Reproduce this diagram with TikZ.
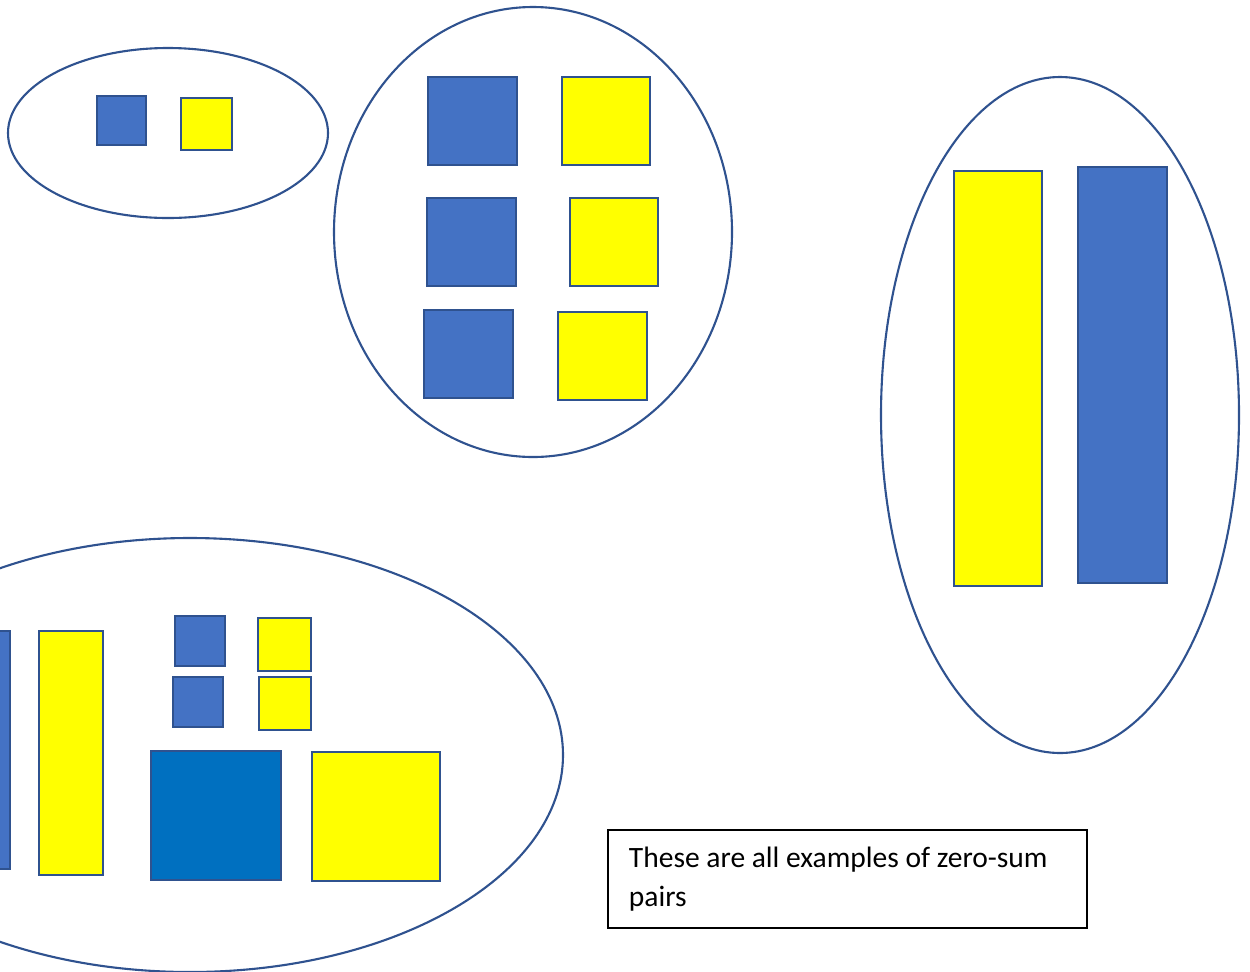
\documentclass[tikz,border=0pt]{standalone}
\usepackage{fontspec}
\setmainfont{Carlito}
\definecolor{tileblue}{HTML}{4472C4}
\definecolor{deepblue}{HTML}{0070C0}
\definecolor{rim}{HTML}{2F528F}
\definecolor{tileyellow}{HTML}{FFFF00}
\tikzset{
  ring/.style     ={draw=rim, line width=1.2pt},
  tile/.style     ={draw=rim, line width=1.2pt},
  plustile/.style ={tile, fill=tileyellow},
  minustile/.style={tile, fill=tileblue},
  bigminus/.style ={tile, fill=deepblue},
  note/.style     ={draw=black, line width=1.1pt, anchor=north west, align=flush left,
                    minimum width=9.58cm, minimum height=1.96cm, text width=8.74cm,
                    inner xsep=0.42cm, font=\fontsize{16.8}{22}\selectfont}
}
\begin{document}
\begin{tikzpicture}[x=0.02cm, y=-0.02cm]
  \useasboundingbox (0,0) rectangle (1250,971);
  \clip (0,0) rectangle (1250,971);

  % small pair
  \draw[ring] (168,133) ellipse [x radius=160, y radius=85];
  \draw[minustile] (97,96) rectangle (146,145);
  \draw[plustile] (181,98) rectangle (232,150);

  % three pairs of squares
  \draw[ring] (533,232) ellipse [x radius=199, y radius=225];
  \draw[minustile] (428,77) rectangle (517,165);
  \draw[plustile] (562,77) rectangle (650,165);
  \draw[minustile] (427,198) rectangle (516,286);
  \draw[plustile] (570,198) rectangle (658,286);
  \draw[minustile] (424,310) rectangle (513,398);
  \draw[plustile] (558,312) rectangle (647,400);

  % long bars
  \draw[ring] (1060,415) ellipse [x radius=179, y radius=338];
  \draw[plustile] (954,171) rectangle (1042,586);
  \draw[minustile] (1078,167) rectangle (1167,583);

  % mixed group
  \draw[ring] (190,755) ellipse [x radius=373, y radius=217];
  \draw[minustile] (-20,631) rectangle (10,869);
  \draw[plustile] (39,631) rectangle (103,875);
  \draw[minustile] (175,616) rectangle (225,666);
  \draw[plustile] (258,618) rectangle (311,671);
  \draw[minustile] (173,677) rectangle (223,727);
  \draw[plustile] (259,677) rectangle (311,730);
  \draw[bigminus] (151,751) rectangle (281,880);
  \draw[plustile] (312,752) rectangle (440,881);

  \node[note] (note) at (607,829) {These are all examples of zero-sum\\pairs};
\end{tikzpicture}
\end{document}
